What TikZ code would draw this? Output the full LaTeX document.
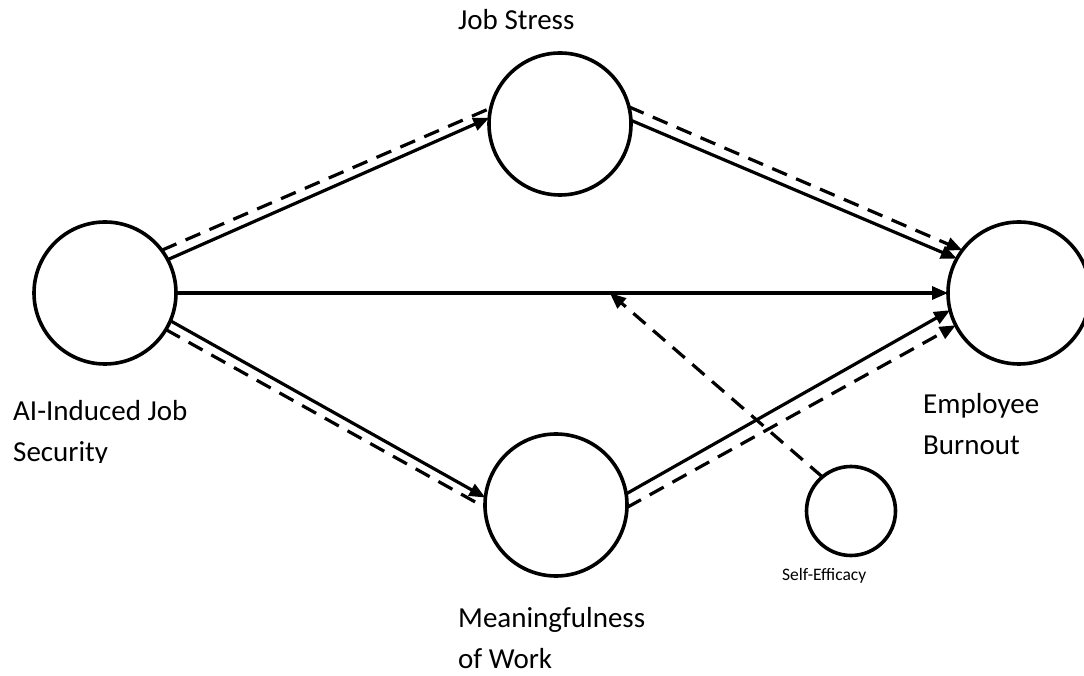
\documentclass[tikz,border=0pt]{standalone}
\usepackage{fontspec}
\setmainfont{Carlito}
\usetikzlibrary{arrows.meta,positioning}

\begin{document}
\begin{tikzpicture}[x=1pt,y=1pt,on grid,
  latent/.style={circle,draw,line width=3.6pt,minimum size=142pt,inner sep=0pt,outer sep=0pt},
  small/.style={latent,minimum size=89pt},
  effect/.style={line width=3.2pt,-{Triangle[length=16pt,width=13pt]}},
  indirect/.style={effect,dash pattern=on 16pt off 10pt},
  lbl/.style={font=\fontsize{29}{41}\selectfont,align=left,inner sep=0pt,anchor=base west}]
 \useasboundingbox (0,0) rectangle (1084,675);

 \node[latent] (ai) at (105,382) {};
 \node[latent] (js) [above right=169pt and 455pt of ai] {};
 \node[latent] (mw) [below right=212pt and 451pt of ai] {};
 \node[latent] (rb) [right=914pt of ai] {};
 \node[small] (se) [below right=6pt and 295pt of mw] {};

 \draw[effect] (ai.0) -- coordinate[pos=0.562] (mod) (rb.180);
 \path[effect]
 (ai.28) edge (js.175)
 (ai.337) edge (mw.174)
 (js.3) edge (rb.151)
 (mw.9) edge (rb.194);
 \path[indirect]
 (ai.37) edge[-] (js.167)
 (js.14) edge (rb.143)
 (ai.329) edge[-] (mw.182)
 (mw.358) edge (rb.207)
 (se.130) edge (mod);

 \node[lbl] (jsl) at (458,645) {Job Stress};
 \begin{scope}
 \clip (0,212) rectangle (300,300);
 \node[lbl] (ail) at (13,213) {AI-Induced Job\\Security};
 \end{scope}
 \node[lbl] (rbl) at (923,220) {Employee\\Burnout};
 \node[lbl] (mwl) at (458,7) {Meaningfulness\\of Work};
 \node[lbl,font=\fontsize{17.5}{21}\selectfont] (sel) at (782,95) {Self-Efficacy};
\end{tikzpicture}
\end{document}
